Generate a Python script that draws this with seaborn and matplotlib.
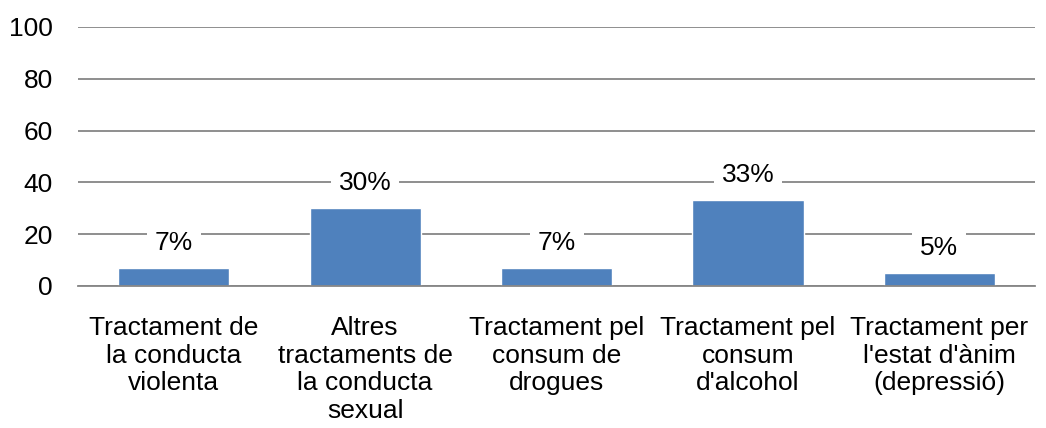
import matplotlib
matplotlib.use("Agg")
import matplotlib.pyplot as plt
import seaborn as sns
import pandas as pd

categories = [
    "Tractament de\nla conducta\nviolenta",
    "Altres\ntractaments de\nla conducta\nsexual",
    "Tractament pel\nconsum de\ndrogues",
    "Tractament pel\nconsum\nd'alcohol",
    "Tractament per\nl'estat d'ànim\n(depressió)",
]
values = [7, 30, 7, 33, 5]
yticks = [0, 20, 40, 60, 80, 100]

df = pd.DataFrame({"cat": categories, "val": values})

sns.set_style("white")
plt.rcParams["font.family"] = ["Liberation Sans", "DejaVu Sans"]
plt.rcParams["text.color"] = "black"
plt.rcParams["xtick.color"] = "black"
plt.rcParams["ytick.color"] = "black"

fig = plt.figure(figsize=(10.46, 4.28), dpi=100)
ax = fig.add_axes([0.0746, 0.332, 0.915, 0.605])

sns.barplot(data=df, x="cat", y="val", color="#4F81BD", saturation=1,
            width=0.58, ax=ax, zorder=2)

ax.set_ylim(0, 100)
ax.set_yticks(yticks)
ax.set_xlim(-0.5, len(categories) - 0.5)
ax.yaxis.grid(True, color="#868686", linewidth=1.3, zorder=0)
ax.set_axisbelow(True)
for s in ["top", "right", "left"]:
    ax.spines[s].set_visible(False)
ax.spines["bottom"].set_color("#868686")
ax.spines["bottom"].set_linewidth(1.3)
ax.tick_params(axis="y", length=0, pad=18, labelsize=19, labelcolor="black")
ax.tick_params(axis="x", length=0, pad=22, labelsize=19, labelcolor="black")
for lbl in ax.get_xticklabels():
    lbl.set_linespacing(1.18)
ax.set_xlabel("")
ax.set_ylabel("")

for i, v in enumerate(values):
    ax.annotate(f"{v}%", (i, v), xytext=(0, 18), textcoords="offset points",
                ha="center", va="center", fontsize=19, zorder=3, color="black",
                bbox=dict(boxstyle="square,pad=0.3", fc="white", ec="none"))

fig.savefig("out.png", dpi=100)
